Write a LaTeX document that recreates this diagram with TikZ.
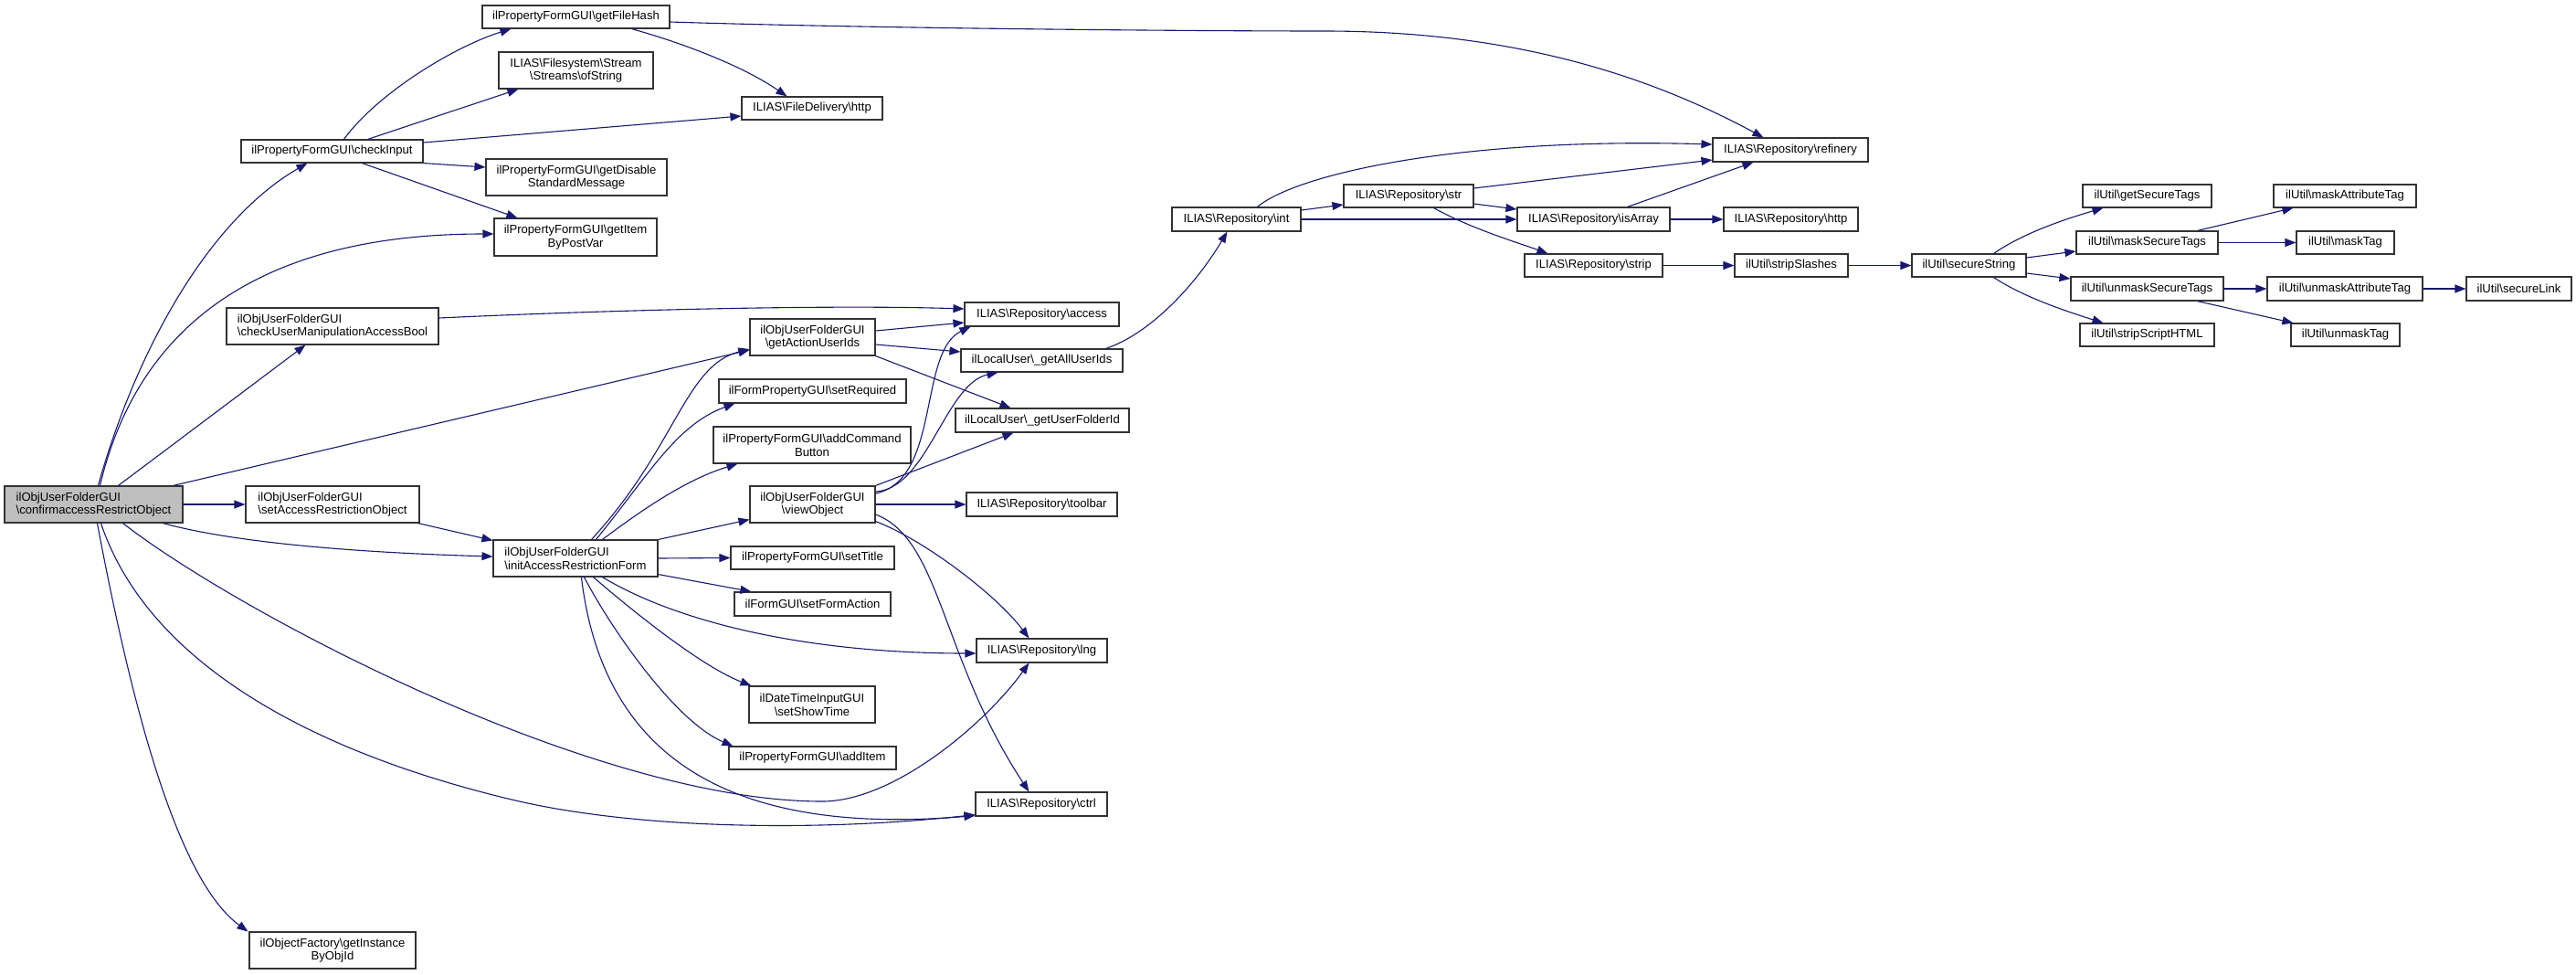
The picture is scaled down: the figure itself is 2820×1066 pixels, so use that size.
\documentclass[tikz,border=0pt]{standalone}
\usepackage{fontspec}
\setmainfont{Liberation Sans}
\usetikzlibrary{arrows.meta}
\definecolor{edgeblue}{HTML}{191970}
\definecolor{boxline}{HTML}{333333}
\definecolor{mainfill}{HTML}{BFBFBF}
\newcommand\BSL{\textbackslash}
\tikzset{
  box/.style={draw=boxline, line width=1.1pt, fill=white, inner sep=0pt, font=\fontsize{13.1}{14.7}\selectfont, text=black},
  edge/.style={draw=edgeblue, line width=1.1pt, -{Triangle[length=12pt,width=9pt]}},
}
\newcommand\bx[7][]{\node[box,#1,minimum width={(#5-#3)*1pt},minimum height={(#6-#4)*1pt}] (#2) at ({(#3+#5)/2},{(#4+#6)/2}) {#7};}
\begin{document}
\begin{tikzpicture}[x=1pt,y=-1pt]
\fill[white] (0,0) rectangle (2820,1066);
\useasboundingbox (0,0) rectangle (2820,1066);
% nodes
\bx[fill=mainfill,align=left]{main}{5}{532}{200}{572}{ilObjUserFolderGUI\\\BSL confirmaccessRestrictObject}
\bx{getFileHash}{528}{6}{733}{31}{ilPropertyFormGUI\BSL getFileHash}
\bx[align=center]{ofString}{546}{57}{715}{97}{ILIAS\BSL Filesystem\BSL Stream\\\BSL Streams\BSL ofString}
\bx{checkInput}{264}{153}{463}{178}{ilPropertyFormGUI\BSL checkInput}
\bx[align=center]{getDisable}{532}{174}{730}{214}{ilPropertyFormGUI\BSL getDisable\\StandardMessage}
\bx[align=center]{getItem}{541}{239}{719}{280}{ilPropertyFormGUI\BSL getItem\\ByPostVar}
\bx[align=left]{checkUMAB}{248}{337}{480}{377}{ilObjUserFolderGUI\\\BSL checkUserManipulationAccessBool}
\bx[align=left]{setARO}{269}{532}{459}{572}{ilObjUserFolderGUI\\\BSL setAccessRestrictionObject}
\bx[align=left]{initARF}{540}{591}{720}{631}{ilObjUserFolderGUI\\\BSL initAccessRestrictionForm}
\bx[align=center]{getInst}{273}{1020}{455}{1060}{ilObjectFactory\BSL getInstance\\ByObjId}
\bx{fdhttp}{812}{106}{966}{131}{ILIAS\BSL FileDelivery\BSL http}
\bx{int}{1283}{227}{1424}{253}{ILIAS\BSL Repository\BSL int}
\bx{access}{1056}{331}{1225}{357}{ILIAS\BSL Repository\BSL access}
\bx[align=center]{gaui}{821}{349}{958}{389}{ilObjUserFolderGUI\\\BSL getActionUserIds}
\bx{getAllUserIds}{1052}{382}{1229}{407}{ilLocalUser\BSL\_getAllUserIds}
\bx{setRequired}{787}{415}{992}{441}{ilFormPropertyGUI\BSL setRequired}
\bx[align=center]{addCB}{781}{467}{997}{507}{ilPropertyFormGUI\BSL addCommand\\Button}
\bx[align=center]{viewObject}{821}{532}{958}{572}{ilObjUserFolderGUI\\\BSL viewObject}
\bx{setTitle}{800}{598}{979}{623}{ilPropertyFormGUI\BSL setTitle}
\bx{setFormAction}{804}{648}{975}{674}{ilFormGUI\BSL setFormAction}
\bx[align=center]{setShowTime}{820}{751}{958}{791}{ilDateTimeInputGUI\\\BSL setShowTime}
\bx{addItem}{798}{817}{981}{842}{ilPropertyFormGUI\BSL addItem}
\bx{getUserFolderId}{1046}{447}{1236}{473}{ilLocalUser\BSL\_getUserFolderId}
\bx{toolbar}{1058}{539}{1223}{565}{ILIAS\BSL Repository\BSL toolbar}
\bx{lng}{1069}{699}{1212}{725}{ILIAS\BSL Repository\BSL lng}
\bx{ctrl}{1068}{867}{1212}{893}{ILIAS\BSL Repository\BSL ctrl}
\bx{refinery}{1875}{151}{2045}{177}{ILIAS\BSL Repository\BSL refinery}
\bx{str}{1471}{202}{1613}{227}{ILIAS\BSL Repository\BSL str}
\bx{isArray}{1661}{227}{1828}{253}{ILIAS\BSL Repository\BSL isArray}
\bx{rhttp}{1887}{227}{2034}{253}{ILIAS\BSL Repository\BSL http}
\bx{strip}{1669}{278}{1820}{303}{ILIAS\BSL Repository\BSL strip}
\bx{stripSlashes}{1899}{278}{2023}{303}{ilUtil\BSL stripSlashes}
\bx{secureString}{2093}{278}{2218}{303}{ilUtil\BSL secureString}
\bx{getSecureTags}{2280}{202}{2421}{227}{ilUtil\BSL getSecureTags}
\bx{maskSecureTags}{2273}{253}{2428}{278}{ilUtil\BSL maskSecureTags}
\bx{unmaskSecureTags}{2267}{303}{2434}{329}{ilUtil\BSL unmaskSecureTags}
\bx{stripScriptHTML}{2277}{354}{2424}{379}{ilUtil\BSL stripScriptHTML}
\bx{maskAttributeTag}{2489}{202}{2645}{227}{ilUtil\BSL maskAttributeTag}
\bx{maskTag}{2514}{253}{2621}{278}{ilUtil\BSL maskTag}
\bx{unmaskAttributeTag}{2482}{303}{2652}{329}{ilUtil\BSL unmaskAttributeTag}
\bx{unmaskTag}{2508}{354}{2627}{379}{ilUtil\BSL unmaskTag}
\bx{secureLink}{2700}{303}{2815}{329}{ilUtil\BSL secureLink}
% edges from main
\draw[edge] ([xshift=103pt]main.north west) .. controls (150,380) and (230,240) .. ([xshift=73pt]checkInput.south west);
\draw[edge] ([xshift=105pt]main.north west) .. controls (150,360) and (280,256) .. ([yshift=3.5pt]getItem.west);
\draw[edge] ([xshift=125pt]main.north west) -- ([xshift=87pt]checkUMAB.south west);
\draw[edge] ([xshift=185pt]main.north west) -- ([yshift=-14pt]gaui.west);
\draw[edge] (main.east) -- (setARO.west);
\draw[edge] ([xshift=174pt]main.south west) .. controls (260,595) and (400,605) .. ([yshift=2pt]initARF.west);
\draw[edge] ([xshift=-2pt]setARO.south east) -- ([yshift=-1pt]initARF.north west);
\draw[edge] ([xshift=102pt]main.south west) .. controls (140,750) and (190,960) .. ([xshift=-1pt]getInst.north west);
\draw[edge] ([xshift=106pt]main.south west) .. controls (160,720) and (330,820) .. (560,875) .. controls (698,908) and (900,910) .. ([yshift=2pt]ctrl.south west);
\draw[edge] ([xshift=130pt]main.south west) .. controls (260,670) and (650,877) .. (900,877) .. controls (980,877) and (1080,790) .. ([xshift=58pt]lng.south west);
% edges from initAccessRestrictionForm
\draw[edge] ([xshift=108pt]initARF.north west) .. controls (740,490) and (750,400) .. ([yshift=-13pt]gaui.west);
\draw[edge] ([xshift=113pt]initARF.north west) .. controls (710,520) and (740,465) .. ([xshift=18pt]setRequired.south west);
\draw[edge] ([xshift=120pt]initARF.north west) .. controls (700,560) and (750,525) .. ([xshift=27pt]addCB.south west);
\draw[edge] (initARF.north east) -- ([yshift=4pt]viewObject.south west);
\draw[edge] (initARF.east) -- (setTitle.west);
\draw[edge] ([yshift=3pt]initARF.south east) -- ([xshift=19pt]setFormAction.north west);
\draw[edge] ([xshift=120pt]initARF.south west) .. controls (740,680) and (880,715) .. ([yshift=-3pt]lng.west);
\draw[edge] ([xshift=110pt]initARF.south west) .. controls (700,675) and (770,730) .. ([xshift=3pt]setShowTime.north west);
\draw[edge] ([xshift=100pt]initARF.south west) .. controls (670,690) and (740,790) .. ([xshift=5pt]addItem.north west);
\draw[edge] ([xshift=97pt]initARF.south west) .. controls (660,830) and (800,915) .. ([yshift=1pt]ctrl.south west);
% getActionUserIds, checkUMAB, viewObject
\draw[edge] ([yshift=7pt]gaui.east) -- ([yshift=-9pt]access.west);
\draw[edge] ([yshift=-8pt]gaui.east) -- ([yshift=9.5pt]getAllUserIds.west);
\draw[edge] (gaui.south east) -- ([xshift=61pt]getUserFolderId.north west);
\draw[edge] ([yshift=9pt]checkUMAB.east) .. controls (650,340) and (900,333) .. ([yshift=6pt]access.west);
\draw[edge] ([yshift=12pt]viewObject.east) .. controls (1030,525) and (1005,385) .. ([xshift=7pt]access.south west);
\draw[edge] ([yshift=14pt]viewObject.east) .. controls (1015,535) and (1035,420) .. ([xshift=41pt]getAllUserIds.south west);
\draw[edge] (viewObject.north east) -- ([xshift=64pt]getUserFolderId.south west);
\draw[edge] (viewObject.east) -- (toolbar.west);
\draw[edge] ([yshift=2pt]viewObject.south east) .. controls (1010,590) and (1090,650) .. ([xshift=58pt]lng.north west);
\draw[edge] ([yshift=-11pt]viewObject.east) .. controls (1030,590) and (1030,720) .. ([xshift=59pt]ctrl.north west);
\draw[edge] ([xshift=-19pt]getAllUserIds.north east) .. controls (1260,365) and (1310,310) .. ([xshift=61pt]int.south west);
% getFileHash, checkInput
\draw[edge] ([xshift=164pt]getFileHash.south west) .. controls (740,45) and (810,70) .. ([xshift=50pt]fdhttp.north west);
\draw[edge] ([yshift=-5.5pt]getFileHash.east) .. controls (950,31) and (1300,34) .. (1450,34) .. controls (1650,34) and (1800,80) .. ([xshift=56pt]refinery.north west);
\draw[edge] ([xshift=113pt]checkInput.north west) .. controls (415,100) and (500,50) .. ([xshift=32pt]getFileHash.south west);
\draw[edge] ([xshift=139pt]checkInput.north west) -- ([xshift=22pt]ofString.south west);
\draw[edge] ([yshift=9.5pt]checkInput.east) -- ([yshift=-8.5pt]fdhttp.west);
\draw[edge] (checkInput.south east) -- ([yshift=11pt]getDisable.west);
\draw[edge] ([xshift=133pt]checkInput.south west) -- ([xshift=26pt]getItem.north west);
% repository
\draw[edge] ([xshift=94pt]int.north west) .. controls (1420,190) and (1600,150) .. ([yshift=6pt]refinery.west);
\draw[edge] ([yshift=10pt]int.east) -- ([yshift=-9.5pt]str.west);
\draw[edge] (int.east) -- (isArray.west);
\draw[edge] ([yshift=8.5pt]str.east) -- ([yshift=-11pt]refinery.west);
\draw[edge] ([yshift=-8.5pt]str.east) -- ([yshift=11pt]isArray.west);
\draw[edge] ([xshift=99pt]str.south west) .. controls (1610,250) and (1660,265) .. ([xshift=26pt]strip.north west);
\draw[edge] ([xshift=121pt]isArray.north west) -- ([xshift=45pt]refinery.south west);
\draw[edge] (isArray.east) -- (rhttp.west);
\draw[edge] (strip.east) -- (stripSlashes.west);
\draw[edge] (stripSlashes.east) -- (secureString.west);
% ilUtil
\draw[edge] ([xshift=90pt]secureString.north west) .. controls (2215,255) and (2260,240) .. ([xshift=23pt]getSecureTags.south west);
\draw[edge] ([yshift=8.5pt]secureString.east) -- ([yshift=-9.5pt]maskSecureTags.west);
\draw[edge] ([yshift=-8.5pt]secureString.east) -- ([yshift=11pt]unmaskSecureTags.west);
\draw[edge] ([xshift=90pt]secureString.south west) .. controls (2215,325) and (2260,340) .. ([xshift=26pt]stripScriptHTML.north west);
\draw[edge] ([xshift=133pt]maskSecureTags.north west) -- ([xshift=22pt]maskAttributeTag.south west);
\draw[edge] (maskSecureTags.east) -- (maskTag.west);
\draw[edge] (unmaskSecureTags.east) -- (unmaskAttributeTag.west);
\draw[edge] ([xshift=139pt]unmaskSecureTags.south west) -- ([xshift=3pt]unmaskTag.north west);
\draw[edge] (unmaskAttributeTag.east) -- (secureLink.west);
\end{tikzpicture}
\end{document}
